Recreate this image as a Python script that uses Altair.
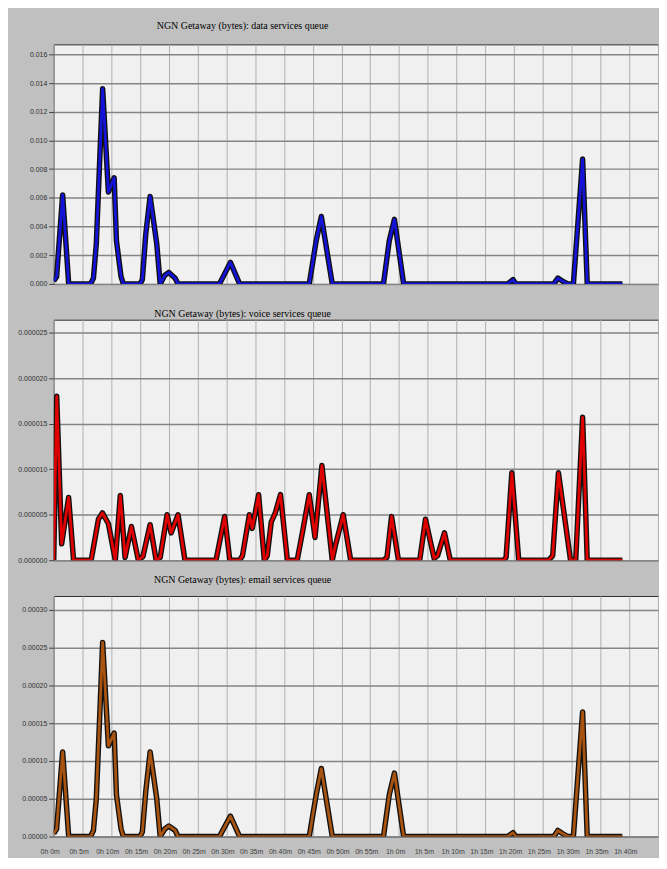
import altair as alt
import pandas as pd

# ---- data (time in minutes, queue size in bytes) ----
data_t = [0, 0.5, 1.55, 2.6, 6.4, 6.9, 7.4, 8.1, 8.5, 9.5, 10.5, 10.9, 11.7, 12.1,
          15.0, 15.4, 16.0, 16.75, 17.9, 18.5, 19.3, 20.0, 21.1, 21.6,
          28.8, 30.7, 32.3, 44.4, 45.6, 46.5, 48.4, 57.3, 58.3, 59.2, 60.8,
          78.9, 79.8, 80.3, 86.9, 87.6, 88.4, 89.3, 90.3, 91.9, 92.7, 98.8]
data_v = [0.0002, 0.0005, 0.0062, 0.0, 0.0, 0.0004, 0.0028, 0.0097, 0.0136, 0.0064, 0.0074, 0.003, 0.0005, 0.0,
          0.0, 0.0003, 0.0035, 0.0061, 0.0028, 0.0, 0.0006, 0.0008, 0.0004, 0.0,
          0.0, 0.0015, 0.0, 0.0, 0.003, 0.0047, 0.0, 0.0, 0.003, 0.0045, 0.0,
          0.0, 0.0003, 0.0, 0.0, 0.0004, 0.0002, 0.0, 0.0, 0.0087, 0.0, 0.0]

voice_t = [0, 0.52, 1.38, 2.59, 3.45, 6.39, 6.56, 7.77, 8.46, 9.5, 10.7, 11.57, 12.4, 13.5, 14.7,
           15.5, 16.75, 17.8, 18.5, 19.7, 20.4, 21.6, 22.8, 28.2, 29.7, 30.6, 32.3, 32.8, 34.0,
           34.5, 35.6, 36.6, 37.1, 37.8, 38.5, 39.4, 40.6, 42.3, 43.2, 44.4, 45.4, 46.6, 48.4,
           48.9, 50.3, 51.6, 57.3, 57.9, 58.7, 59.9, 63.6, 64.6, 66.1, 66.7, 67.9, 68.9, 78.2,
           78.6, 79.6, 80.8, 86.0, 86.7, 87.7, 89.8, 90.7, 91.9, 92.7, 98.8]
voice_v = [0.0, 1.8e-5, 1.8e-6, 6.9e-6, 0.0, 0.0, 2e-7, 4.5e-6, 5.2e-6, 4.0e-6, 0.0, 7.1e-6, 3e-7, 3.7e-6, 0.0,
           4e-7, 3.9e-6, 0.0, 3e-7, 5.0e-6, 3.0e-6, 5.0e-6, 0.0, 0.0, 4.8e-6, 0.0, 0.0, 5e-7, 5.0e-6,
           3.5e-6, 7.2e-6, 0.0, 5e-7, 4.2e-6, 5.2e-6, 7.2e-6, 0.0, 0.0, 3.0e-6, 7.2e-6, 2.5e-6, 1.04e-5, 0.0,
           1.5e-6, 5.0e-6, 0.0, 0.0, 3e-7, 4.8e-6, 0.0, 0.0, 4.5e-6, 2e-7, 5e-7, 3.0e-6, 0.0, 0.0,
           3e-7, 9.6e-6, 0.0, 0.0, 5e-7, 9.6e-6, 0.0, 0.0, 1.57e-5, 0.0, 0.0]

email_t = data_t
email_v = [0.000004, 0.00001, 0.000112, 0.0, 0.0, 0.000008, 0.00005, 0.00018, 0.000257, 0.00012, 0.000137, 0.000055, 0.00001, 0.0,
           0.0, 0.000006, 0.00006, 0.000112, 0.00005, 0.0, 0.00001, 0.000014, 0.000008, 0.0,
           0.0, 0.000027, 0.0, 0.0, 0.000055, 0.00009, 0.0, 0.0, 0.000055, 0.000084, 0.0,
           0.0, 0.000005, 0.0, 0.0, 0.000008, 0.000004, 0.0, 0.0, 0.000165, 0.0, 0.0]

grid_minutes = list(range(0, 110, 5))
data_ticks = [0, 0.002, 0.004, 0.006, 0.008, 0.010, 0.012, 0.014, 0.016]
voice_ticks = [0, 0.000005, 0.00001, 0.000015, 0.00002, 0.000025]
email_ticks = [0, 0.00005, 0.0001, 0.00015, 0.0002, 0.00025, 0.0003]

titles = ["NGN Getaway (bytes): data services queue",
          "NGN Getaway (bytes): voice services queue",
          "NGN Getaway (bytes): email services queue"]

LABEL_FONT = "Liberation Sans"


def panel(t, v, color, title, ticks, ymax, fmt, height, title_offset, show_x):
    df = pd.DataFrame({"t": t, "v": v})
    x_axis = alt.Axis(
        values=grid_minutes, grid=True, gridColor="#b0b0b0", gridWidth=1,
        ticks=False, domain=False, title=None, labels=show_x,
        labelExpr="datum.value >= 105 ? '' : floor(datum.value / 60) + 'h ' + (datum.value % 60) + 'm'",
        labelFont=LABEL_FONT, labelFontSize=7, labelColor="#404040",
        labelPadding=11, labelOffset=-4, labelFlush=False, labelOverlap=False,
    )
    y_axis = alt.Axis(
        values=ticks, format=fmt, grid=True, gridColor="#858585", gridWidth=1.5,
        ticks=True, tickSize=5, tickColor="#404040", domain=False, title=None,
        labelFont=LABEL_FONT, labelFontSize=7, labelColor="#303030", labelPadding=2,
    )
    x = alt.X("t:Q", scale=alt.Scale(domain=[0, 105], nice=False, zero=False), axis=x_axis)
    y = alt.Y("v:Q", scale=alt.Scale(domain=[0, ymax], nice=False), axis=y_axis)
    base = alt.Chart(df).encode(x=x, y=y)
    outline = base.mark_line(color="#111111", strokeWidth=5.5, strokeJoin="round", clip=True)
    inner = base.mark_line(color=color, strokeWidth=2.8, strokeJoin="round", clip=True)
    return alt.layer(outline, inner).properties(
        width=608, height=height,
        title=alt.TitleParams(title, anchor="middle", dx=-114, offset=title_offset,
                              font="Liberation Serif", fontSize=10, fontWeight="normal",
                              color="#000000"),
    )


p1 = panel(data_t, data_v, "#1414d8", titles[0], data_ticks, 0.016 * 241 / 231, ".3f", 241, 13, False)
p2 = panel(voice_t, voice_v, "#e00000", titles[1], voice_ticks, 0.000025 * 242 / 229, ".6f", 242, 1, False)
p3 = panel(email_t, email_v, "#a85410", titles[2], email_ticks, 0.0003 * 242 / 228, ".5f", 242, 11, True)

chart = alt.vconcat(p1, p2, p3, spacing=36, bounds="flush").properties(
    padding={"left": 9, "top": 10, "right": 0, "bottom": 0},
    background="#c0c0c0",
).configure_view(fill="#f0f0f0", stroke="#303030", strokeWidth=1)

chart.save("out.html", embed_options={"renderer": "svg", "actions": False})
